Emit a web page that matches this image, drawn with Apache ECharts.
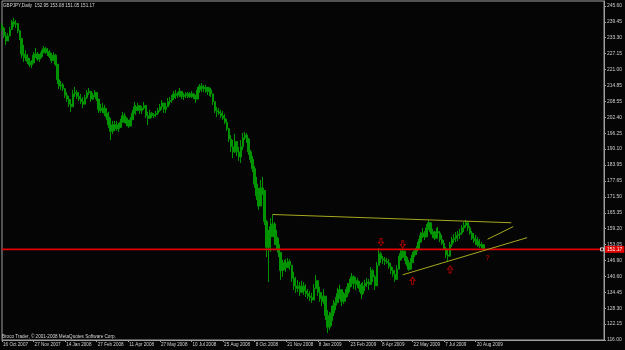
<!DOCTYPE html>
<html><head><meta charset="utf-8">
<script src="https://cdn.jsdelivr.net/npm/echarts@6/dist/echarts.min.js"></script>
<style>html,body{margin:0;padding:0;background:#050505;}#c{width:625px;height:350px;}</style>
</head><body><div id="c"></div>
<script>
const titleText = 'GBPJPY,Daily  152.95 153.08 151.05 151.17';
const copyrightText = 'Broco Trader, \u00a9 2001-2008 MetaQuotes Software Corp.';
const dateLabels = ['16 Oct 2007','27 Nov 2007','14 Jan 2008','27 Feb 2008','11 Apr 2008','27 May 2008','10 Jul 2008','25 Aug 2008','8 Oct 2008','21 Nov 2008','8 Jan 2009','23 Feb 2009','8 Apr 2009','22 May 2009','7 Jul 2009','20 Aug 2009'];
const labelEvery = 16;
const slotCount = 306;
const priceTicks = ['116.00','122.15','128.30','134.45','140.60','146.90','153.05','159.20','165.35','171.50','177.65','183.95','190.10','196.25','202.40','208.55','214.85','221.00','227.15','233.30','239.45','245.60'];
const priceMin = 116.00, priceMax = 247.54;
const firstOpen = 238.0;
const highs = [
239.0,237.5,235.5,235.1,237.5,240.2,241.0,240.2,238.6,236.3,
233.2,230.5,228.5,227.0,225.4,224.6,227.7,229.3,227.7,227.0,
228.5,230.1,229.7,229.3,228.5,227.4,227.7,227.0,222.3,217.3,
216.5,215.7,213.8,212.2,210.7,209.5,213.0,214.2,213.0,212.2,
211.5,210.3,211.1,213.0,213.8,211.5,211.9,213.0,212.2,208.7,
207.6,208.0,207.2,206.0,204.5,202.1,201.0,201.0,201.0,200.2,
201.8,204.5,204.1,202.5,201.4,202.5,205.3,208.4,207.2,208.0,
207.2,206.8,208.4,206.8,204.5,205.3,204.5,204.1,204.9,206.0,
207.6,209.1,208.0,208.0,209.9,210.3,211.1,212.6,213.0,212.2,
213.8,212.6,211.9,212.2,212.2,212.2,212.6,211.9,211.1,214.2,
215.3,215.7,215.0,215.0,214.2,214.2,213.8,211.1,208.4,206.4,
206.0,205.3,204.9,203.7,201.8,198.3,195.5,193.6,196.0,192.5,
190.9,193.6,196.3,196.7,196.3,194.4,189.7,187.4,183.5,179.3,
175.0,178.1,179.3,172.3,162.6,158.7,163.3,164.5,161.8,158.7,
155.6,149.0,147.1,147.1,147.4,147.8,147.4,145.1,142.4,140.5,
139.3,138.5,138.9,138.5,137.7,135.8,135.0,134.3,137.7,141.2,
139.3,136.6,134.6,135.8,132.7,127.6,126.9,129.2,131.5,132.7,
136.2,137.4,134.6,134.6,135.8,138.1,139.7,142.0,141.2,140.5,
140.1,138.9,138.1,138.5,139.3,140.1,139.7,144.3,143.6,141.2,
146.3,151.7,150.2,148.6,148.2,147.8,147.4,145.9,144.3,143.2,
145.1,148.6,150.9,151.7,150.5,148.6,147.1,147.8,150.2,151.3,
152.5,155.2,157.9,159.5,158.3,161.0,162.6,161.0,159.1,158.3,
159.5,159.9,158.3,156.8,154.8,152.1,150.9,154.0,156.0,157.1,
157.9,158.3,159.1,160.6,161.8,162.6,162.2,160.2,158.3,157.5,
156.8,156.0,155.2,154.0,153.08];
const lows = [
235.9,233.2,230.5,232.0,234.0,236.3,237.5,237.1,235.1,232.4,
225.4,223.9,224.3,223.1,221.9,221.5,223.5,225.4,224.3,223.9,
225.4,227.4,227.0,226.2,225.4,223.5,225.0,222.3,215.3,213.4,
213.0,212.6,209.9,208.4,206.4,204.5,208.4,210.3,209.5,208.7,
207.6,206.0,208.0,209.5,211.1,208.4,209.1,210.3,208.7,204.1,
204.1,204.1,202.9,201.4,198.3,193.6,195.9,197.1,197.1,196.7,
198.3,200.6,200.2,199.0,198.3,199.4,201.4,204.1,203.3,205.3,
203.7,203.7,205.3,202.1,199.4,202.5,202.1,202.1,202.5,203.3,
204.5,205.3,204.1,204.1,206.4,207.2,208.0,209.1,209.5,209.9,
210.3,209.5,209.1,209.9,209.9,209.9,209.9,209.5,208.0,210.7,
211.9,212.2,212.2,211.9,211.1,210.7,210.3,207.2,204.1,202.5,
203.3,202.1,201.4,199.8,197.1,192.8,189.0,186.6,188.6,187.4,
185.5,184.7,189.7,193.6,192.5,187.8,184.7,181.2,175.0,170.3,
166.5,171.5,172.3,160.6,148.2,138.5,150.2,156.0,152.9,150.9,
148.2,139.3,140.5,143.2,142.4,144.0,143.2,138.5,135.4,134.3,
134.6,133.1,134.3,133.5,132.7,131.9,131.1,130.4,132.7,136.2,
133.1,130.8,129.2,130.0,123.8,118.7,119.9,121.4,125.3,127.6,
130.4,131.9,129.2,130.0,130.8,132.7,134.6,136.6,135.8,135.4,
136.2,134.6,131.9,133.5,135.0,136.6,135.4,139.3,138.5,135.4,
141.2,145.9,145.9,145.5,145.1,145.5,143.6,141.6,140.5,138.5,
139.7,144.0,147.1,147.8,146.7,144.7,142.8,143.2,146.7,148.2,
149.0,150.9,153.6,155.6,154.8,157.1,158.7,157.1,155.6,154.8,
155.6,156.4,154.0,152.9,150.9,147.8,146.3,150.5,152.1,153.6,
154.0,154.4,155.2,156.8,157.9,159.5,158.3,156.8,154.8,153.6,
152.9,152.1,151.7,151.6,151.05];
const closes = [
237.0,234.0,232.0,234.0,236.5,239.5,238.5,238.8,236.0,233.0,
227.0,226.5,225.5,224.0,222.8,223.5,226.5,227.0,225.0,226.0,
227.5,229.0,228.0,227.5,226.0,224.5,226.5,223.0,217.0,214.5,
215.0,213.5,211.0,209.5,207.5,206.5,211.5,212.0,210.5,209.5,
208.5,207.5,210.0,212.0,212.5,209.5,211.0,212.0,209.5,205.5,
205.0,206.0,204.0,202.5,199.5,197.0,198.0,199.5,198.0,198.5,
200.5,203.0,202.0,200.0,199.0,201.5,204.0,206.5,205.0,207.0,
205.0,206.0,207.0,203.0,202.0,204.0,203.0,203.5,204.0,205.0,
206.5,208.0,205.5,206.5,208.5,209.0,210.0,211.5,211.0,211.5,
212.5,210.5,211.0,211.0,211.5,210.5,211.5,210.5,209.5,213.0,
214.5,214.0,213.5,214.0,212.5,213.0,211.5,208.5,205.0,204.5,
204.0,203.0,202.0,200.5,198.0,194.0,191.0,189.0,193.0,189.0,
187.0,191.0,194.5,195.5,194.0,189.0,186.0,182.5,176.5,172.0,
168.0,175.0,174.0,162.0,152.0,156.0,160.0,161.0,156.0,153.0,
150.0,143.0,145.0,146.0,144.0,146.5,145.0,140.0,137.0,136.0,
137.0,134.5,137.0,135.0,134.0,133.0,132.5,131.5,136.0,139.0,
134.5,132.0,131.0,133.0,125.5,121.0,123.5,126.5,129.5,130.5,
134.0,135.5,131.0,132.5,134.0,136.5,138.0,140.5,138.0,139.0,
137.5,136.0,134.0,137.0,138.0,138.5,137.5,143.0,140.5,137.0,
145.0,149.5,147.5,147.0,146.5,146.0,144.5,143.0,141.5,139.5,
143.5,147.0,149.5,150.5,148.0,145.5,143.5,146.0,149.0,150.5,
151.5,154.0,156.5,157.5,156.0,159.5,161.5,158.0,157.0,155.5,
158.0,157.5,155.0,153.5,151.5,149.0,148.5,153.0,155.0,155.5,
156.5,157.0,157.5,159.5,160.5,161.5,159.5,157.5,155.5,155.0,
154.5,153.0,152.5,152.95,151.17];
const lineLevel = 151.17;
const lineLevelLabel = '151.17';
const downArrows = [[192, 154.0], [203, 153.1]];
const upArrows = [[208, 139.0], [227, 143.4]];
const questionMarks = [[246, 147.9]];
const trendLines = [
  [[137, 164.7], [258, 161.5]],
  [[246, 155.1], [259, 160.0]],
  [[203, 141.3], [266, 155.7]]
];

const cats = [];
for (let i = 0; i < slotCount; i++) {
  cats.push(i % labelEvery === 0 && dateLabels[i / labelEvery] ? dateLabels[i / labelEvery] : String(i));
}
const showIdx = (i) => i % labelEvery === 0 && i / labelEvery < dateLabels.length;
const candles = closes.map((c, i) => [i === 0 ? firstOpen : closes[i - 1], c, lows[i], highs[i]]);
const tickVals = priceTicks.map(Number);

const FONT = 'Liberation Sans, Arial, sans-serif';
const green = '#009400';
const red = '#e00000';
const series = [{
  type: 'candlestick',
  data: candles,
  barWidth: 2,
  z: 2,
  itemStyle: { color: green, color0: green, borderColor: green, borderColor0: green, borderWidth: 1 }
}, {
  type: 'line',
  z: 3,
  silent: true,
  symbol: 'none',
  lineStyle: { color: red, width: 1.6 },
  data: [[0, lineLevel], [slotCount - 1, lineLevel]],
  endLabel: { show: true, formatter: lineLevelLabel, backgroundColor: '#e00000', color: '#ffffff', fontSize: 5, fontFamily: FONT, padding: [1, 2, 1, 2], distance: 1 }
}, {
  type: 'scatter',
  z: 4,
  silent: true,
  data: [[slotCount - 2, lineLevel]],
  symbol: 'rect',
  symbolSize: 3,
  itemStyle: { color: '#000000', borderColor: '#ffffff', borderWidth: 1 }
}];
trendLines.forEach(seg => series.push({
  type: 'line', data: seg, symbol: 'none', silent: true, z: 3,
  lineStyle: { color: '#a8a820', width: 1 }
}));
const downPath = 'path://M3,0 L7,0 L7,6 L10,6 L5,11 L0,6 L3,6 Z';
const upPath = 'path://M3,11 L7,11 L7,5 L10,5 L5,0 L0,5 L3,5 Z';
series.push({ type: 'scatter', data: downArrows, symbol: downPath, symbolSize: [5, 7], silent: true, z: 4,
  itemStyle: { color: 'rgba(0,0,0,0)', borderColor: '#c80000', borderWidth: 1 } });
series.push({ type: 'scatter', data: upArrows, symbol: upPath, symbolSize: [5, 7], silent: true, z: 4,
  itemStyle: { color: 'rgba(0,0,0,0)', borderColor: '#c80000', borderWidth: 1 } });
series.push({ type: 'scatter', data: questionMarks, symbolSize: 1, silent: true, z: 4,
  itemStyle: { color: 'rgba(0,0,0,0)' },
  label: { show: true, position: 'inside', formatter: '?', color: '#c80000', fontSize: 7, fontWeight: 'bold', fontFamily: FONT } });

const chart = echarts.init(document.getElementById('c'), null, { renderer: 'canvas' });
chart.setOption({
  backgroundColor: '#050505',
  animation: false,
  grid: { left: 1, right: 19, top: 1, bottom: 10, show: true, borderColor: '#a0a0a0', borderWidth: 1 },
  xAxis: {
    type: 'category', data: cats, boundaryGap: false,
    axisLine: { show: true, lineStyle: { color: '#a0a0a0' } },
    axisTick: { show: true, interval: showIdx, length: 2, lineStyle: { color: '#a0a0a0' } },
    axisLabel: { interval: showIdx, align: 'left', color: '#d0d0d0', fontSize: 4.6, fontFamily: FONT, margin: 2, padding: [0, 0, 0, 1] },
    splitLine: { show: false }
  },
  yAxis: {
    type: 'value', position: 'right', min: priceMin, max: priceMax,
    axisLine: { show: true, lineStyle: { color: '#a0a0a0' } },
    axisTick: { show: true, customValues: tickVals, length: 2, lineStyle: { color: '#a0a0a0' } },
    axisLabel: { customValues: tickVals, formatter: (v) => v.toFixed(2), color: '#d0d0d0', fontSize: 4.9, fontFamily: FONT, margin: 3 },
    splitLine: { show: false }
  },
  graphic: [
    { type: 'text', left: 3, top: 3, style: { text: titleText, fill: '#d8d8d8', fontSize: 4.6, fontFamily: FONT } },
    { type: 'text', left: 2, top: 334, style: { text: copyrightText, fill: '#d8d8d8', fontSize: 4.6, fontFamily: FONT } }
  ],
  series: series
});
</script>
</body></html>
